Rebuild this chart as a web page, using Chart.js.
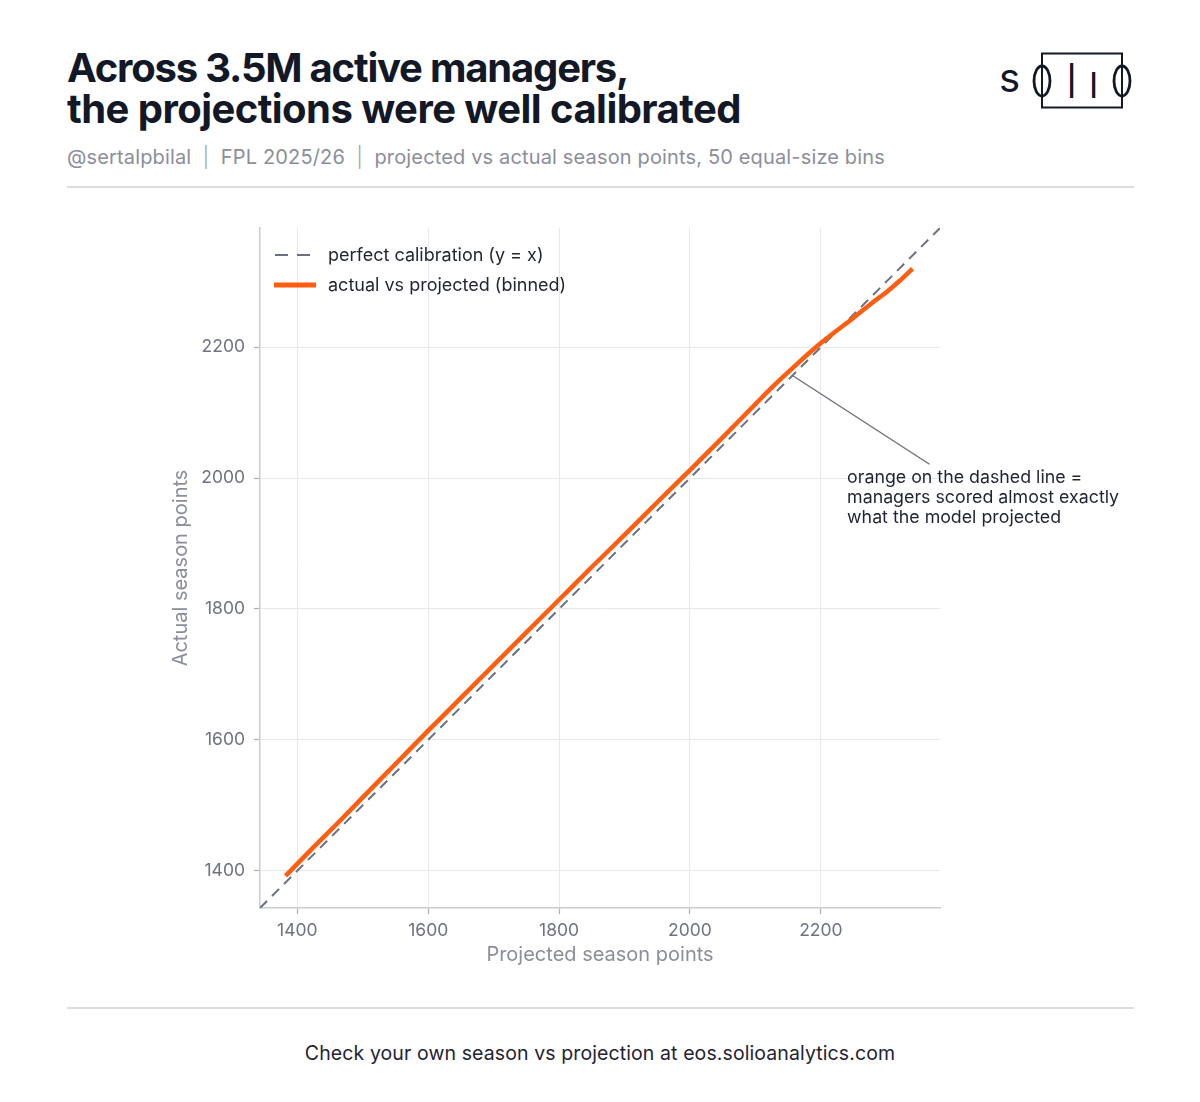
<!DOCTYPE html>
<html>
<head>
<meta charset="utf-8">
<script src="https://cdn.jsdelivr.net/npm/chart.js@4.4.1/dist/chart.umd.min.js"></script>
<style>
  html, body { margin:0; padding:0; background:#ffffff; }
  body { width:1200px; height:1102px; position:relative; overflow:hidden; font-family:"Inter","Noto Sans",sans-serif; }
  .title { position:absolute; left:67px; top:47px; font-size:40px; line-height:41px; font-weight:700; color:#121826; white-space:nowrap; }
  .t1 { letter-spacing:-1.2px; }
  .t2 { letter-spacing:-0.55px; }
  .subtitle { position:absolute; left:67px; top:145px; font-size:20px; color:#8b8e9a; white-space:nowrap; letter-spacing:0.15px; }
  .sep { color:#9a9da8; font-weight:300; }
  .rule { position:absolute; left:67px; width:1067px; height:2px; background:#dcdde2; }
  .footer { position:absolute; left:0; width:1200px; top:1041px; text-align:center; font-size:19.5px; color:#1f2333; letter-spacing:0.1px; }
  #wrap { position:absolute; left:150px; top:200px; width:1000px; height:780px; }
  .legend { position:absolute; left:274px; top:240px; font-size:18px; color:#1f2333; }
  .legrow { position:relative; height:30px; line-height:30px; padding-left:54px; white-space:nowrap; }
  .sw { position:absolute; left:0; }
  .logo { position:absolute; left:990px; top:40px; width:160px; height:80px; }
</style>
</head>
<body>
<div class="title"><span class="t1">Across 3.5M active managers,</span><br><span class="t2">the projections were well calibrated</span></div>
<div class="subtitle">@sertalpbilal <span class="sep">&nbsp;|&nbsp;</span> FPL 2025/26 <span class="sep">&nbsp;|&nbsp;</span> projected vs actual season points, 50 equal-size bins</div>
<div class="rule" style="top:186px"></div>
<svg class="logo" viewBox="0 0 160 80" width="160" height="80">
  <rect x="52" y="13.5" width="80" height="54" fill="none" stroke="#121826" stroke-width="2"/>
  <text x="9" y="52" font-family="Inter, sans-serif" font-size="40" font-weight="400" fill="#121826">s</text>
  <ellipse cx="52" cy="41" rx="8" ry="15" fill="none" stroke="#121826" stroke-width="2.8"/>
  <text x="81.5" y="58" text-anchor="middle" font-family="Inter, sans-serif" font-size="48" font-weight="300" fill="#121826">l</text>
  <text x="103.5" y="58" text-anchor="middle" font-family="Inter, sans-serif" font-size="48" font-weight="300" fill="#121826">ı</text>
  <ellipse cx="132" cy="41" rx="8" ry="15" fill="none" stroke="#121826" stroke-width="2.8"/>
</svg>
<div id="wrap"><canvas id="c" width="1000" height="780"></canvas></div>
<div class="legend">
  <div class="legrow"><svg class="sw" style="top:13px" width="40" height="4"><line x1="1" y1="2" x2="36" y2="2" stroke="#6b7080" stroke-width="2.2" stroke-dasharray="13,9"/></svg>perfect calibration (y = x)</div>
  <div class="legrow"><svg class="sw" style="top:12px" width="44" height="6"><line x1="0" y1="3" x2="42" y2="3" stroke="#ff5e10" stroke-width="5"/></svg>actual vs projected (binned)</div>
</div>
<div class="rule" style="top:1007px"></div>
<div class="footer">Check your own season vs projection at eos.solioanalytics.com</div>

<script>
// ---- data ----
const projected = [1382, 1420, 1460, 1500, 1550, 1600, 1650, 1700, 1750, 1800, 1850, 1900, 1950, 2000, 2050, 2100, 2130, 2160, 2190, 2220, 2250, 2280, 2300, 2320, 2340];
const actual    = [1392, 1431, 1471, 1512, 1563, 1614, 1664, 1714, 1764, 1814, 1864, 1913, 1963, 2012, 2062, 2113, 2143, 2171, 2198, 2222, 2245, 2269, 2284, 2301, 2320];
const axisMin = 1343;
const axisMax = 2382;
const tickValues = [1400, 1600, 1800, 2000, 2200];
const tickLabels = ['1400', '1600', '1800', '2000', '2200'];
const calibrationLine = [axisMin, axisMax];
const annotationFrom = [2156, 2157];
const annotationTo = [2366, 2021];
const annotationAnchor = [2240, 2000];
const annotationLines = ["orange on the dashed line =", "managers scored almost exactly", "what the model projected"];

const binned = projected.map((x, i) => ({ x: x, y: actual[i] }));
const diag = calibrationLine.map(v => ({ x: v, y: v }));
const pointer = [{ x: annotationFrom[0], y: annotationFrom[1] }, { x: annotationTo[0], y: annotationTo[1] }];
const labelFor = v => { const i = tickValues.indexOf(v); return i >= 0 ? tickLabels[i] : ''; };

const annotationText = {
  id: 'annotationText',
  afterDatasetsDraw(chart) {
    const { ctx, scales } = chart;
    const px = scales.x.getPixelForValue(annotationAnchor[0]);
    const py = scales.y.getPixelForValue(annotationAnchor[1]);
    ctx.save();
    ctx.font = '17.8px Inter, "Noto Sans", sans-serif';
    ctx.fillStyle = '#1f2333';
    ctx.textAlign = 'left';
    ctx.textBaseline = 'middle';
    annotationLines.forEach((t, i) => ctx.fillText(t, px, py + i * 19.7));
    ctx.restore();
  }
};

const tickFont = { family: 'Inter, "Noto Sans", sans-serif', size: 17.5 };
const titleFont = { family: 'Inter, "Noto Sans", sans-serif', size: 20 };

new Chart(document.getElementById('c'), {
  type: 'line',
  data: {
    datasets: [
      { label: 'actual vs projected (binned)', data: binned, borderColor: '#ff5e10', borderWidth: 4.5,
        pointRadius: 0, tension: 0.4, cubicInterpolationMode: 'monotone', order: 0, borderCapStyle: 'butt' },
      { label: 'perfect calibration (y = x)', data: diag, borderColor: '#6b7080', borderWidth: 2,
        borderDash: [10, 7], pointRadius: 0, order: 1 },
      { label: 'pointer', data: pointer, borderColor: '#6b6f7a', borderWidth: 1.4, pointRadius: 0, order: 2, clip: false }
    ]
  },
  options: {
    responsive: false,
    animation: false,
    devicePixelRatio: 1,
    layout: { padding: { left: 0, right: 210, top: 28, bottom: 0 } },
    plugins: { legend: { display: false }, tooltip: { enabled: false } },
    scales: {
      x: {
        type: 'linear', min: axisMin, max: axisMax,
        afterBuildTicks: s => { s.ticks = tickValues.map(v => ({ value: v })); },
        afterFit: s => { s.height = 72; },
        grid: { color: '#e7e8ed', lineWidth: 1, tickLength: 6, tickColor: '#a9adb8', tickWidth: 1.2 },
        border: { color: '#c9ccd5', width: 1.5 },
        ticks: { color: '#6e7281', font: tickFont, padding: 6, maxRotation: 0, callback: v => labelFor(v) },
        title: { display: true, text: 'Projected season points', color: '#8b8e9a', font: titleFont, padding: { top: 0, bottom: 13 } }
      },
      y: {
        type: 'linear', min: axisMin, max: axisMax,
        afterBuildTicks: s => { s.ticks = tickValues.map(v => ({ value: v })); },
        afterFit: s => { s.width = 110; },
        grid: { color: '#e7e8ed', lineWidth: 1, tickLength: 6, tickColor: '#a9adb8', tickWidth: 1.2 },
        border: { color: '#c9ccd5', width: 1.5 },
        ticks: { color: '#6e7281', font: tickFont, padding: 9, callback: v => labelFor(v) },
        title: { display: true, text: 'Actual season points', color: '#8b8e9a', font: titleFont, padding: { top: 19, bottom: 0 } }
      }
    }
  },
  plugins: [annotationText]
});
</script>
</body>
</html>
